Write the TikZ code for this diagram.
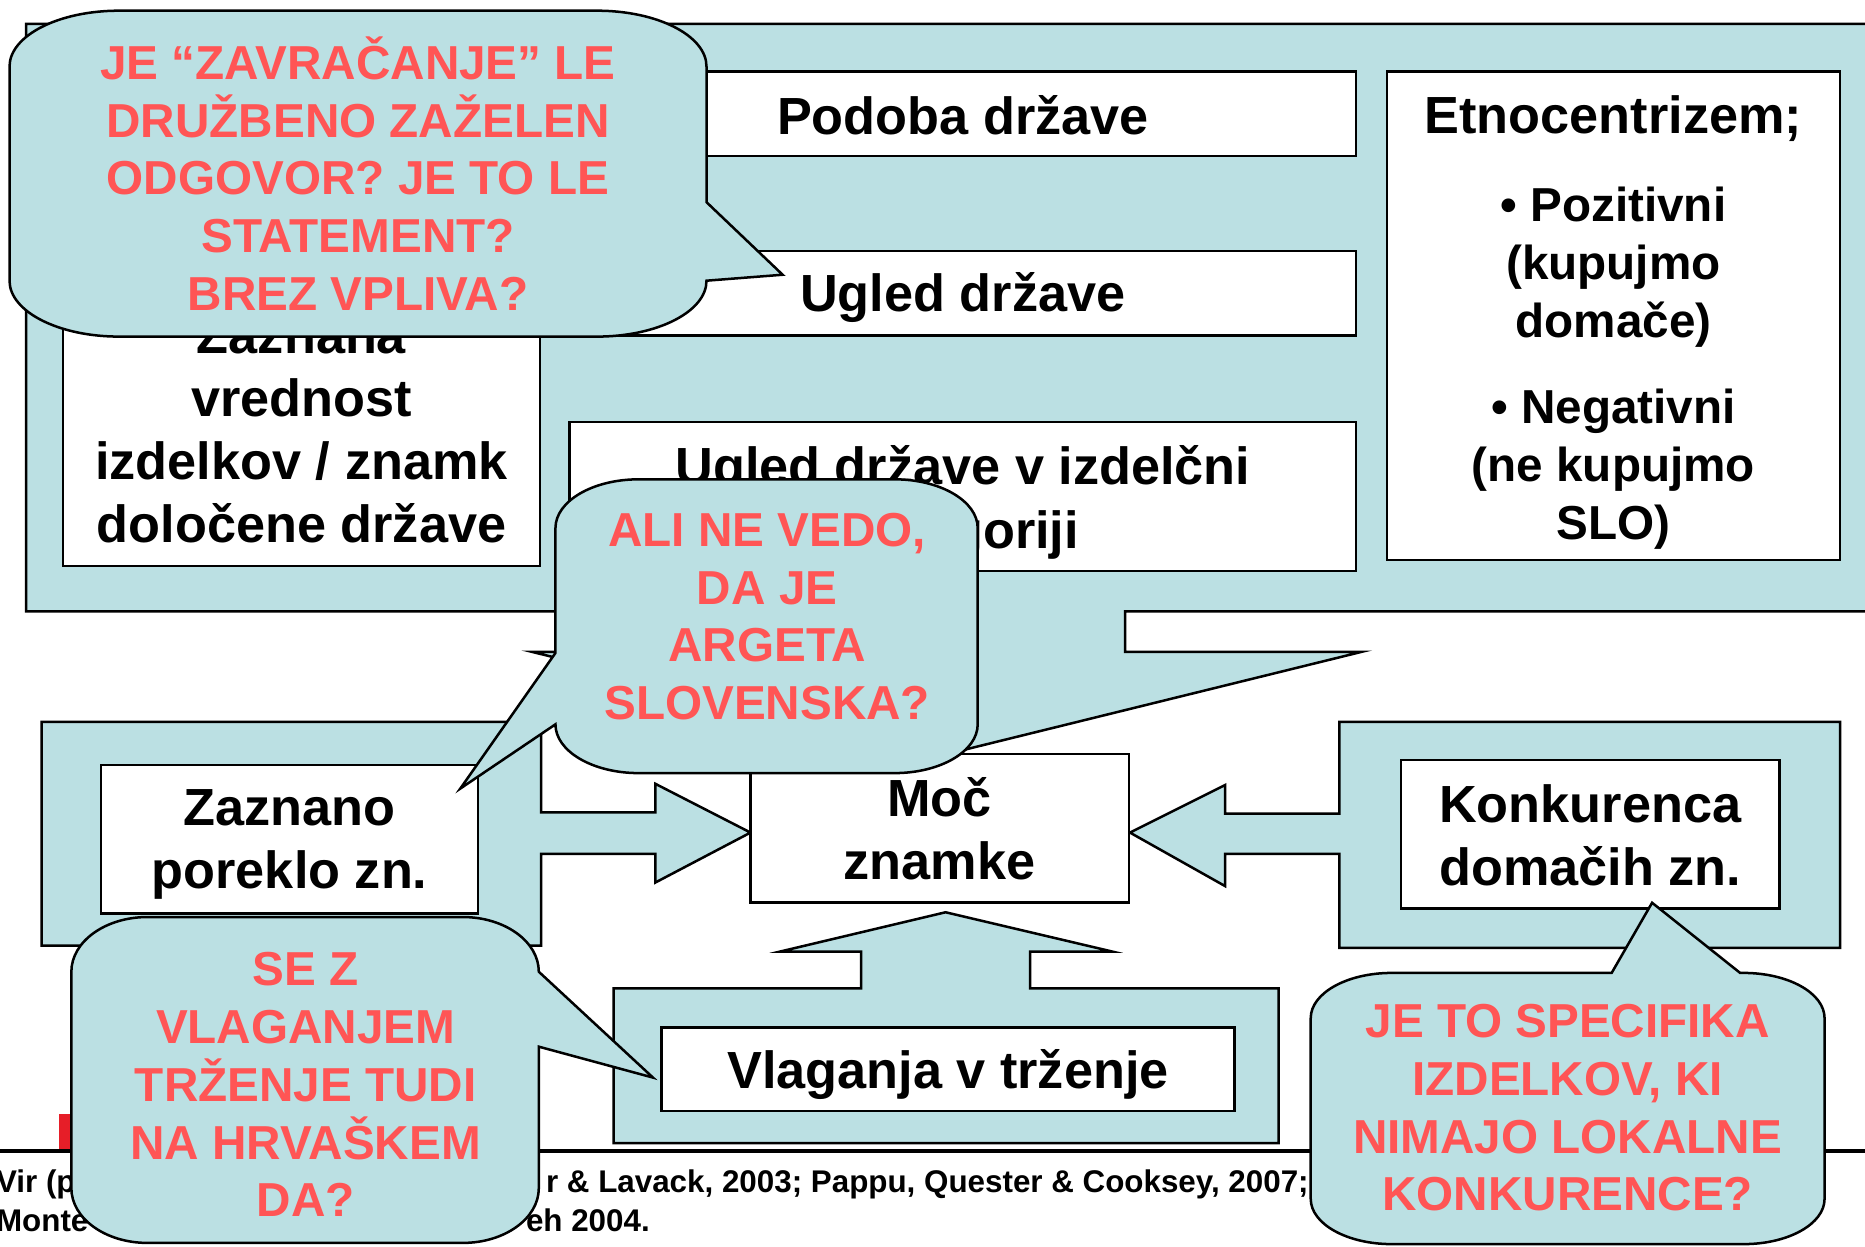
\documentclass[tikz,border=0pt]{standalone}
\usepackage{fontspec}
\setmainfont{Liberation Sans}
\definecolor{lblue}{RGB}{187,224,227}
\definecolor{cred}{RGB}{255,85,85}
\definecolor{tred}{RGB}{230,30,40}
\newcommand\boxfont{\fontsize{12.5}{15.1}\selectfont\bfseries}
\newcommand\callfont{\fontsize{11.4}{13.8}\selectfont\bfseries}
\newcommand\etnofont{\fontsize{11.4}{13.9}\selectfont\bfseries}
\newcommand\footfont{\fontsize{7.5}{9.1}\selectfont\bfseries}
\begin{document}
\begin{tikzpicture}[x=0.1mm,y=-0.1mm,
  cont/.style={fill=lblue,draw=black,line width=0.6pt,line join=miter},
  wbox/.style={draw=black,fill=white,line width=0.6pt,inner sep=0pt},
  wtext/.style={align=center,font=\boxfont,inner sep=0pt},
  bubble/.style={fill=lblue,draw=black,line width=0.6pt},
  btext/.style={text=cred,align=center,font=\callfont,inner sep=0pt},
  foot/.style={font=\footfont,inner sep=0pt}]
\useasboundingbox (0,0) rectangle (1568,1048);
\fill[white] (0,0) rectangle (1568,1048);

% containers with block arrows
\draw[cont] (22,20) -- (1590,20) -- (1590,514) -- (946,514) -- (946,548) -- (1145,548) -- (796,634) -- (447,548) -- (646,548) -- (646,514) -- (22,514) -- cycle;
\draw[cont] (35,607) -- (455,607) -- (455,683) -- (551,683) -- (551,659) -- (631,700) -- (551,742) -- (551,718) -- (455,718) -- (455,795) -- (35,795) -- cycle;
\draw[cont] (1126,607) -- (1547,607) -- (1547,797) -- (1126,797) -- (1126,718) -- (1030,718) -- (1030,745) -- (950,700) -- (1030,660) -- (1030,684) -- (1126,684) -- cycle;
\draw[cont] (516,831) -- (724,831) -- (724,800) -- (656,800) -- (795,767) -- (935,800) -- (866,800) -- (866,831) -- (1075,831) -- (1075,961) -- (516,961) -- cycle;

% white boxes
\node[wbox,minimum width=40.1mm,minimum height=22.8mm] (zaznana) at (253.5,362) {};
\node[wtext] (zaznana-t) at (zaznana) {Zaznana\\vrednost\\izdelkov / znamk\\določene države};
\node[wbox,minimum width=66.1mm,minimum height=7.1mm] (podoba) at (809.5,95.5) {};
\node[wtext,yshift=-0.15mm] (podoba-t) at (podoba) {Podoba države};
\node[wbox,minimum width=66.1mm,minimum height=7.1mm] (ugled) at (809.5,246.5) {};
\node[wtext,yshift=-0.4mm] (ugled-t) at (ugled) {Ugled države};
\node[wbox,minimum width=66.1mm,minimum height=12.5mm] (ugledkat) at (809.5,417.5) {};
\node[wtext,yshift=-0.5mm] (ugledkat-t) at (ugledkat) {Ugled države v izdelčni\\kategoriji};
\node[wbox,minimum width=38.1mm,minimum height=41.1mm] (etno) at (1356.5,265.5) {};
\node[wtext,font=\etnofont,yshift=-0.55mm] (etno-t) at (etno) {{\boxfont Etnocentrizem;}\\[7.2pt]• Pozitivni\\(kupujmo\\domače)\\[6.6pt]• Negativni\\(ne kupujmo\\SLO)};
\node[wbox,minimum width=31.7mm,minimum height=12.5mm] (poreklo) at (243.5,705.5) {};
\node[wtext,yshift=-0.45mm] (poreklo-t) at (poreklo) {Zaznano\\poreklo zn.};
\node[wbox,minimum width=31.8mm,minimum height=12.5mm] (moc) at (790,696.5) {};
\node[wtext] (moc-t) at (moc) {Moč\\znamke};
\node[wbox,minimum width=31.8mm,minimum height=12.5mm] (konk) at (1337,701.5) {};
\node[wtext,yshift=-0.05mm] (konk-t) at (konk) {Konkurenca\\domačih zn.};
\node[wbox,minimum width=48.2mm,minimum height=7.0mm] (vlag) at (797,899) {};
\node[wtext,yshift=-0.4mm] (vlag-t) at (vlag) {Vlaganja v trženje};

% footer
\fill[tred] (50,937) rectangle (80,968);
\coordinate (fl) at (0,968);
\coordinate (fr) at (1568,968);
\draw[line width=1pt] (fl) -- (fr);
\node[foot,anchor=base west] (f1a) at (-4,1003) {Vir (p};
\node[foot,anchor=base east] (f1b) at (1101,1003) {r \& Lavack, 2003; Pappu, Quester \& Cooksey, 2007;};
\node[foot,anchor=base west] (f2a) at (-4,1035) {Monte};
\node[foot,anchor=base east] (f2b) at (547,1035) {eh 2004.};

% callouts
\draw[bubble] (100,9) -- (502,9) arc[start angle=270,end angle=360,x radius=92,y radius=47] -- (594,170) -- (658,231) -- (594,236) arc[start angle=0,end angle=90,x radius=92,y radius=47] -- (100,283) arc[start angle=90,end angle=180,x radius=92,y radius=47] -- (8,56) arc[start angle=180,end angle=270,x radius=92,y radius=47] -- cycle;
\draw[bubble] (537,403) -- (752,403) arc[start angle=270,end angle=360,x radius=70,y radius=41] -- (822,609) arc[start angle=0,end angle=90,x radius=70,y radius=41] -- (537,650) arc[start angle=90,end angle=180,x radius=70,y radius=41] -- (387,663) -- (467,549) -- (467,444) arc[start angle=180,end angle=270,x radius=70,y radius=41] -- cycle;
\draw[bubble] (124,771) -- (389,771) arc[start angle=270,end angle=360,x radius=64,y radius=46] -- (549,906) -- (453,880) -- (453,999) arc[start angle=0,end angle=90,x radius=64,y radius=46] -- (124,1045) arc[start angle=90,end angle=180,x radius=64,y radius=46] -- (60,817) arc[start angle=180,end angle=270,x radius=64,y radius=46] -- cycle;
\draw[bubble] (1170,818) -- (1355,818) -- (1389,759) -- (1463,818) -- (1466,818) arc[start angle=270,end angle=360,x radius=68,y radius=38] -- (1534,1008) arc[start angle=0,end angle=90,x radius=68,y radius=38] -- (1170,1046) arc[start angle=90,end angle=180,x radius=68,y radius=38] -- (1102,856) arc[start angle=180,end angle=270,x radius=68,y radius=38] -- cycle;

\node[btext] (q1) at (301,146) {JE “ZAVRAČANJE” LE\\DRUŽBENO ZAŽELEN\\ODGOVOR? JE TO LE\\STATEMENT?\\BREZ VPLIVA?};
\node[btext] (q2) at (645,518.5) {ALI NE VEDO,\\DA JE\\ARGETA\\SLOVENSKA?};
\node[btext] (q3) at (257,912) {SE Z\\VLAGANJEM\\TRŽENJE TUDI\\NA HRVAŠKEM\\DA?};
\node[btext] (q4) at (1318,931.5) {JE TO SPECIFIKA\\IZDELKOV, KI\\NIMAJO LOKALNE\\KONKURENCE?};
\end{tikzpicture}
\end{document}
